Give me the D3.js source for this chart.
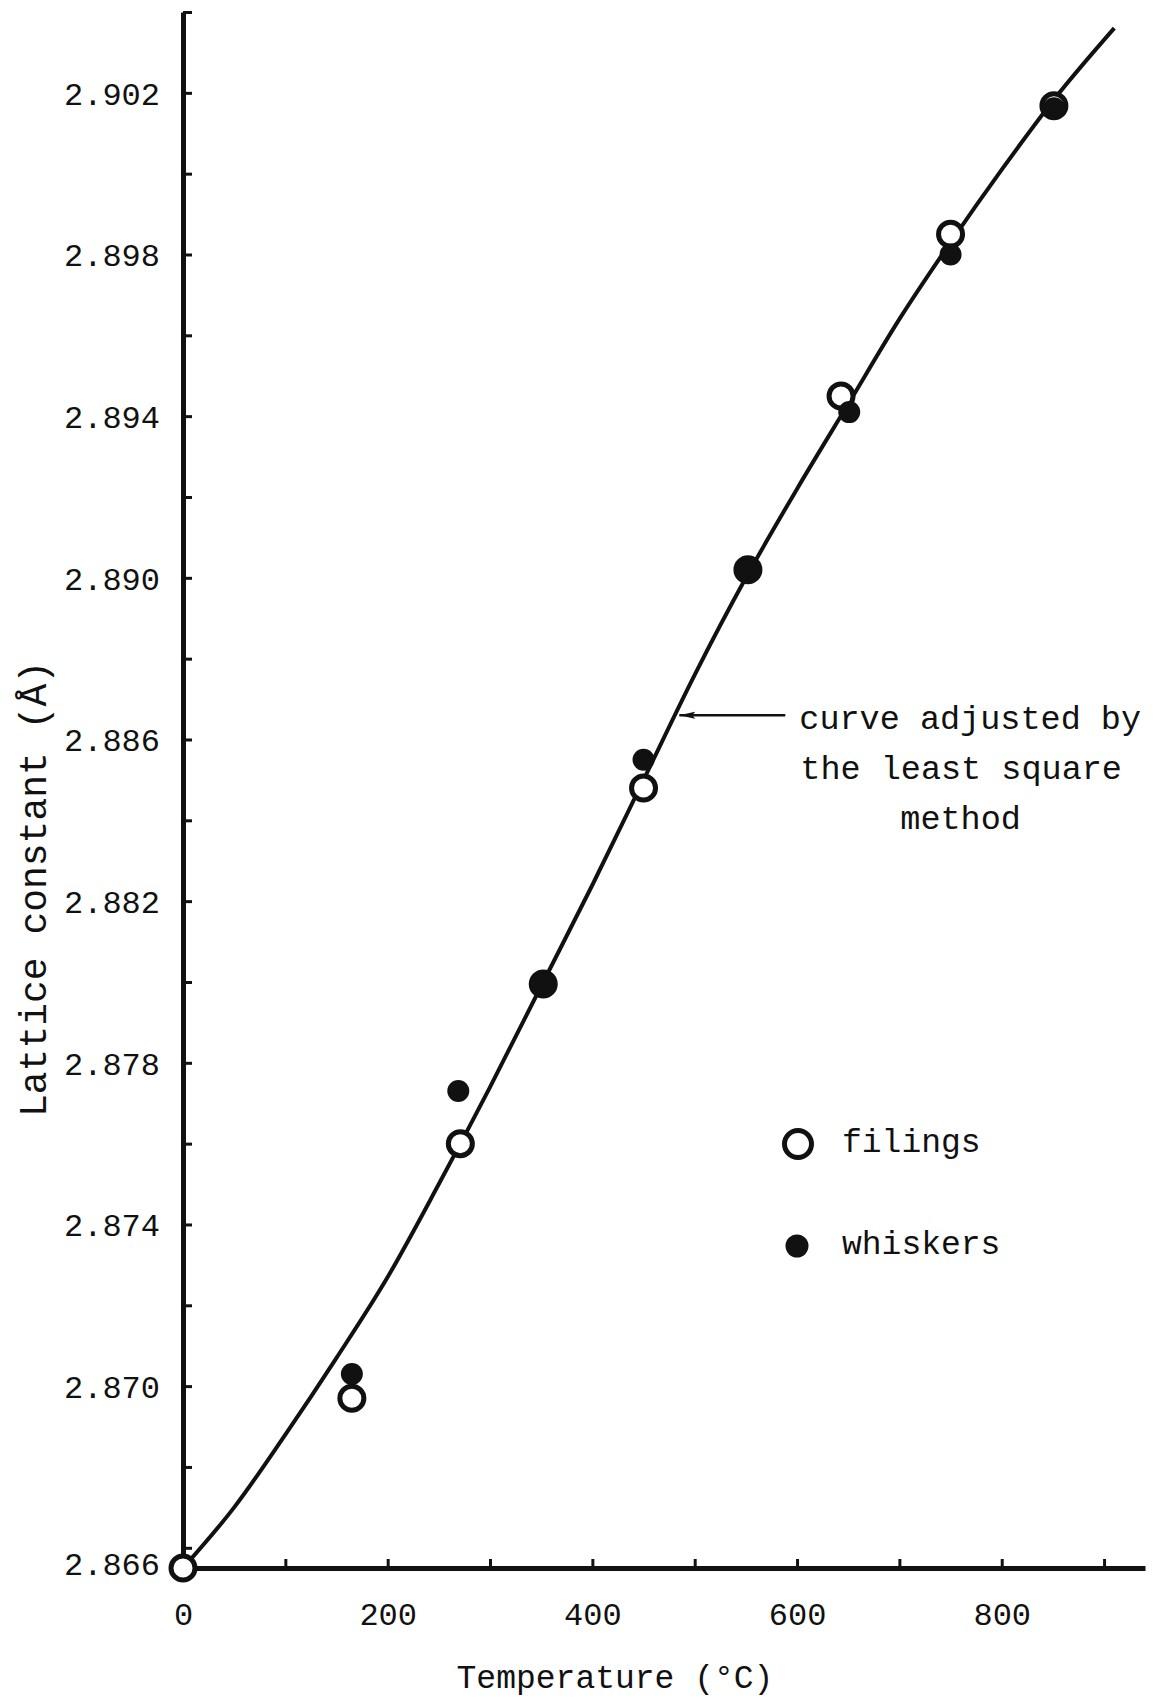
<!DOCTYPE html>
<html>
  <head>
    <meta charset="utf-8">
    <script src="https://d3js.org/d3.v7.min.js"></script>
    <style>
      body { margin: 0; background: #fff; }
      svg text {
        font-family: "Liberation Mono", "Courier New", monospace;
        fill: #111;
      }
      .axis path, .axis line { stroke: #111; }
      .curve { fill: none; stroke: #111; stroke-width: 4; }
      circle.filings { fill: #fff; stroke: #111; stroke-width: 5; }
      circle.whiskers { fill: #111; stroke: none; }
    </style>
  </head>
<body>
  <script>
    // temperature (°C) and lattice constant (Å)
    var filingsT = [0, 165, 271, 352, 450, 552, 643, 750, 851];
    var filingsV = [2.8655, 2.8697, 2.8760, 2.87995, 2.8848, 2.8902, 2.8945, 2.8985, 2.90168];
    var whiskersT = [165, 269, 352, 450, 552, 651, 750, 851];
    var whiskersV = [2.8703, 2.8773, 2.87995, 2.8855, 2.8902, 2.8941, 2.8980, 2.90162];

    // least-square curve, traced
    var curveT = [0, 50, 100, 150, 200, 250, 300, 350, 400, 450, 500, 550, 600, 650, 700, 750, 800, 850, 910];
    var curveV = [2.8655, 2.8670, 2.8688, 2.8707, 2.8727, 2.8750, 2.8774, 2.8799, 2.8824, 2.8850,
                  2.8876, 2.8900, 2.8922, 2.8943, 2.8964, 2.8983, 2.9001, 2.9018, 2.9036];

    var xTicks = [0, 100, 200, 300, 400, 500, 600, 700, 800, 900];
    var xLabels = [0, 200, 400, 600, 800];
    var yTicks = [2.866, 2.868, 2.870, 2.872, 2.874, 2.876, 2.878, 2.880, 2.882, 2.884,
                  2.886, 2.888, 2.890, 2.892, 2.894, 2.896, 2.898, 2.900, 2.902, 2.904];
    var yLabels = [2.866, 2.870, 2.874, 2.878, 2.882, 2.886, 2.890, 2.894, 2.898, 2.902];

    var arrowAt = [483, 2.8866];
    var noteLines = ["curve adjusted by", "the least square", "method"];

    var width = 1153, height = 1701;

    var svg = d3.select("body").append("svg")
      .attr("width", width)
      .attr("height", height);

    var x = d3.scaleLinear().domain([0, 940]).range([183, 1145]);
    var y = d3.scaleLinear().domain([2.8655, 2.904]).range([1568, 12]);

    //
    // axes: tick marks point inwards, labels drawn by a second axis
    //
    var yMarks = svg.append("g")
      .attr("class", "axis")
      .attr("transform", "translate(" + x(0) + ",0)")
      .call(d3.axisRight(y).tickValues(yTicks).tickSize(9).tickSizeOuter(0).tickFormat(""));
    yMarks.select(".domain").attr("stroke-width", 5);
    yMarks.selectAll(".tick line").attr("stroke-width", 3);

    var xMarks = svg.append("g")
      .attr("class", "axis")
      .attr("transform", "translate(0," + y(2.8655) + ")")
      .call(d3.axisTop(x).tickValues(xTicks).tickSize(9).tickSizeOuter(0).tickFormat(""));
    xMarks.select(".domain").attr("stroke-width", 5);
    xMarks.selectAll(".tick line").attr("stroke-width", 3);

    var yText = svg.append("g")
      .attr("transform", "translate(" + x(0) + ",0)")
      .call(d3.axisLeft(y).tickValues(yLabels).tickSize(0).tickPadding(23).tickFormat(d3.format(".3f")));
    yText.select(".domain").remove();
    yText.selectAll("text")
      .attr("font-size", 32)
      .attr("font-family", null)
      .attr("dy", function(d) { return d === 2.866 ? "0.85em" : "0.35em"; });

    var xText = svg.append("g")
      .attr("transform", "translate(0," + y(2.8655) + ")")
      .call(d3.axisBottom(x).tickValues(xLabels).tickSize(0).tickPadding(34));
    xText.select(".domain").remove();
    xText.selectAll("text")
      .attr("font-size", 32)
      .attr("font-family", null);

    svg.append("text")
      .attr("x", 615)
      .attr("y", 1688)
      .attr("text-anchor", "middle")
      .attr("font-size", 33)
      .text("Temperature (°C)");

    svg.append("text")
      .attr("transform", "translate(33,889)rotate(-90)")
      .attr("dy", "0.35em")
      .attr("text-anchor", "middle")
      .attr("font-size", 38)
      .text("Lattice constant (Å)");

    //
    // curve
    //
    var line = d3.line()
      .x(function(d) { return x(d[0]); })
      .y(function(d) { return y(d[1]); })
      .curve(d3.curveMonotoneX);

    svg.append("path")
      .attr("class", "curve")
      .attr("d", line(d3.zip(curveT, curveV)));

    //
    // points
    //
    svg.append("g").selectAll("circle")
      .data(d3.zip(filingsT, filingsV))
      .enter().append("circle")
      .attr("class", "filings")
      .attr("cx", function(d) { return x(d[0]); })
      .attr("cy", function(d) { return y(d[1]); })
      .attr("r", 12);

    svg.append("g").selectAll("circle")
      .data(d3.zip(whiskersT, whiskersV))
      .enter().append("circle")
      .attr("class", "whiskers")
      .attr("cx", function(d) { return x(d[0]); })
      .attr("cy", function(d) { return y(d[1]); })
      .attr("r", 11);

    //
    // annotation arrow
    //
    svg.append("defs").append("marker")
      .attr("id", "head")
      .attr("viewBox", "0 0 16 8")
      .attr("refX", 0)
      .attr("refY", 4)
      .attr("markerWidth", 16)
      .attr("markerHeight", 8)
      .attr("markerUnits", "userSpaceOnUse")
      .attr("orient", "auto")
      .append("path")
      .attr("d", "M0,4 L16,0.5 L13,4 L16,7.5 Z")
      .attr("fill", "#111");

    var tipX = x(arrowAt[0]) + 2, tipY = y(arrowAt[1]);
    svg.append("line")
      .attr("x1", tipX)
      .attr("y1", tipY)
      .attr("x2", tipX + 106)
      .attr("y2", tipY)
      .attr("stroke", "#111")
      .attr("stroke-width", 2.5)
      .attr("marker-start", "url(#head)");

    var noteX = [tipX + 120, tipX + 121, tipX + 221];
    svg.append("g").selectAll("text")
      .data(noteLines)
      .enter().append("text")
      .attr("x", function(d, i) { return noteX[i]; })
      .attr("y", function(d, i) { return tipY + 14 + 50 * i; })
      .attr("font-size", 33.5)
      .text(function(d) { return d; });

    //
    // legend
    //
    var legend = svg.append("g").attr("transform", "translate(798,1144)");
    legend.append("circle")
      .attr("class", "filings")
      .attr("cx", 0).attr("cy", 0).attr("r", 13.5);
    legend.append("text")
      .attr("x", 44).attr("y", 0).attr("dy", "0.25em")
      .attr("font-size", 33)
      .text("filings");
    legend.append("circle")
      .attr("class", "whiskers")
      .attr("cx", -1).attr("cy", 102).attr("r", 11.5);
    legend.append("text")
      .attr("x", 44).attr("y", 102).attr("dy", "0.25em")
      .attr("font-size", 33)
      .text("whiskers");
  </script>
</body>
</html>
